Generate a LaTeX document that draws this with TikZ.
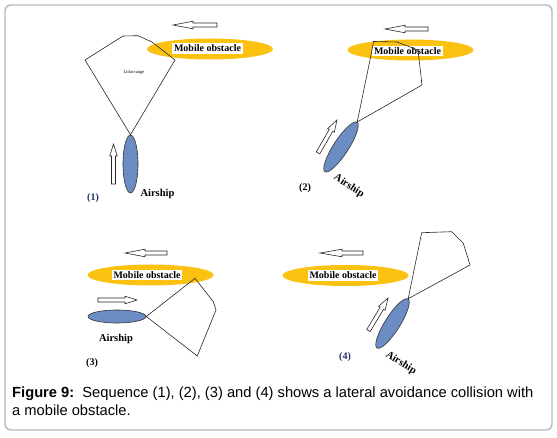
\documentclass[tikz,border=0pt]{standalone}
\usepackage{fontspec}
\setmainfont{Liberation Serif}
\newfontfamily\capfont{Liberation Sans}
\usetikzlibrary{shapes.geometric}
\definecolor{obgold}{HTML}{FBC212}
\definecolor{shipblue}{HTML}{6C8CC4}
\definecolor{navylab}{HTML}{1F2F66}
\tikzset{
  obstacle/.style={ellipse, fill=obgold, draw=none, minimum width=126pt, minimum height=21pt, inner sep=0pt},
  obtext/.style={fill=white, inner sep=1.8pt, font=\fontsize{10}{11}\selectfont\bfseries},
  airship/.style={ellipse, fill=shipblue, draw=black!80, line width=0.6pt, inner sep=0pt},
  shiplab/.style={font=\fontsize{10.5}{12}\selectfont\bfseries, inner sep=0pt},
  numlab/.style={font=\fontsize{10}{12}\selectfont\bfseries, inner sep=0pt},
  lidar/.style={draw=black!85, line width=0.6pt},
  arrowbox/.style={draw=black!85, fill=white, line width=0.6pt},
  capt/.style={font=\capfont\fontsize{14.7}{17}\selectfont, inner sep=0pt},
  pics/blockarrow/.style 2 args={code={
    \draw[arrowbox] (0,0) -- (-#2,3.8) -- (-#2,2) -- (-#1,2) -- (-#1,-2) -- (-#2,-2) -- (-#2,-3.8) -- cycle;}}
}
\begin{document}
\begin{tikzpicture}[x=1pt,y=-1pt]
\useasboundingbox (0,0) rectangle (557,438);
\draw[draw=black!28, line width=1.4pt, rounded corners=6pt] (5,5) rectangle (552,430);

% ---------- Panel 1 ----------
\pic[rotate=180] at (173,25) {blockarrow={44}{20}};
\node[obstacle] (ob1) at (210,49) {};
\node[obtext] (ot1) at (207.5,48.5) {Mobile obstacle};
\node[airship, minimum width=15pt, minimum height=58pt] (as1) at (130.5,164) {};
\draw[lidar] (as1.north) -- (85,60) -- (123,36) -- (138,35.7) -- (152,42) -- (175,60) -- cycle;
\node[font=\fontsize{4.5}{5}\selectfont, inner sep=0pt] (lr1) at (134,72) {Lidar range};
\pic[rotate=90] at (113.5,144) {blockarrow={40}{12}};
\node[numlab, text=navylab] (n1) at (93,198) {(1)};
\node[shiplab] (sl1) at (157.5,194) {Airship};

% ---------- Panel 2 ----------
\pic[rotate=180] at (385,29) {blockarrow={43}{20}};
\node[obstacle] (ob2) at (410.5,50) {};
\node[obtext] (ot2) at (407.5,51) {Mobile obstacle};
\node[airship, minimum width=59pt, minimum height=15pt, rotate=57] (as2) at (341,147) {};
\draw[lidar] (as2.east) -- (371,55) -- (373.5,41.5) -- (397,42) -- (418,50) -- (422,85) -- cycle;
\pic[rotate=60] at (337,120) {blockarrow={38}{12}};
\node[numlab] (n2) at (305,188) {(2)};
\node[shiplab, rotate=-33] (sl2) at (349,186) {Airship};

% ---------- Panel 3 ----------
\pic[rotate=180] at (125,253) {blockarrow={42}{20}};
\node[obstacle] (ob3) at (150.5,275) {};
\node[obtext] (ot3) at (147,275) {Mobile obstacle};
\node[airship, minimum width=58pt, minimum height=13pt] (as3) at (117,316.5) {};
\draw[lidar] (as3.east) -- (195,278.3) -- (213.3,301.7) -- (216,310) -- (197.3,356) -- cycle;
\pic at (137,300) {blockarrow={39}{12}};
\node[shiplab] (sl3) at (116,339) {Airship};
\node[numlab] (n3) at (92,363) {(3)};

% ---------- Panel 4 ----------
\pic[rotate=180] at (320,253) {blockarrow={43}{22}};
\node[obstacle] (ob4) at (345.5,275.5) {};
\node[obtext] (ot4) at (343,275.5) {Mobile obstacle};
\node[airship, minimum width=58pt, minimum height=15pt, rotate=57.7] (as4) at (392.5,323.5) {};
\draw[lidar] (as4.east) -- (421.7,232.7) -- (451.7,231.7) -- (463.3,243.3) -- (470,265) -- cycle;
\pic[rotate=59] at (388,298) {blockarrow={38}{12}};
\node[numlab, text=navylab] (n4) at (345,357) {(4)};
\node[shiplab, rotate=-32] (sl4) at (401,363) {Airship};

% ---------- Caption ----------
\node[capt, anchor=base west] (cap1) at (12,397) {\textbf{Figure 9:}\ \ Sequence (1), (2), (3) and (4) shows a lateral avoidance collision with};
\node[capt, anchor=base west] (cap2) at (12,415) {a mobile obstacle.};
\end{tikzpicture}
\end{document}
